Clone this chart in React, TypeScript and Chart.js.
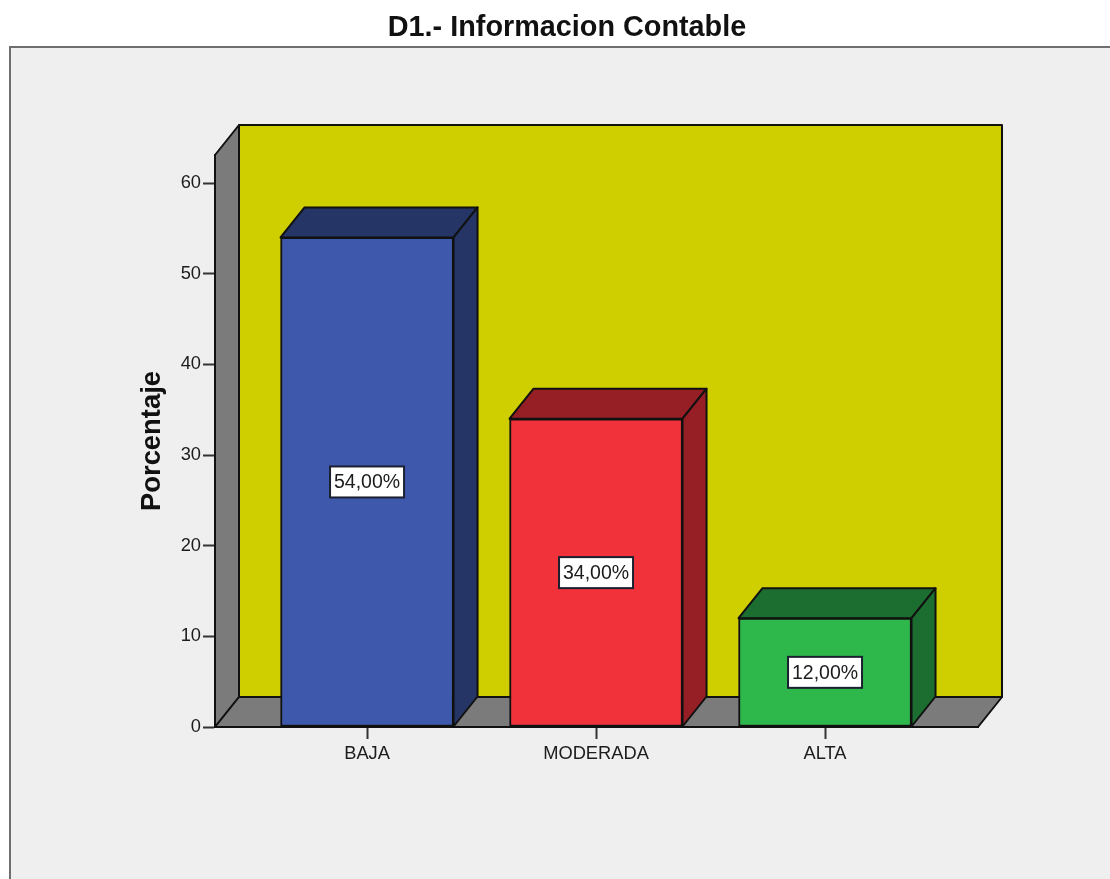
import React, { useEffect, useRef } from "react";
import { Chart, registerables } from "chart.js";

Chart.register(...registerables);

const categories = ["BAJA", "MODERADA", "ALTA"];
const percentages = [54, 34, 12];
const valueLabels = ["54,00%", "34,00%", "12,00%"];
const frontColors = ["#3e59ab", "#f1323b", "#2eb84c"];
const shadeColors = ["#253566", "#951f25", "#1b6e2f"];

const FONT = "'Liberation Sans', Arial, sans-serif";
const INK = "#1c1c1c";
const DEPTH_X = 24;
const DEPTH_Y = -30;

function polygon(ctx: CanvasRenderingContext2D, pts: number[][], fill: string, stroke = "#111", lw = 2) {
  ctx.beginPath();
  pts.forEach(([x, y], i) => (i ? ctx.lineTo(x, y) : ctx.moveTo(x, y)));
  ctx.closePath();
  ctx.fillStyle = fill;
  ctx.fill();
  ctx.lineWidth = lw;
  ctx.lineJoin = "round";
  ctx.strokeStyle = stroke;
  ctx.stroke();
}

// Grey panel with its frame behind the whole chart
const panelPlugin = {
  id: "panel",
  beforeDraw(chart: any) {
    const { ctx, width, height } = chart;
    ctx.save();
    ctx.fillStyle = "#efefef";
    ctx.fillRect(10, 47, width, height);
    ctx.strokeStyle = "#6f6f6f";
    ctx.lineWidth = 2;
    ctx.strokeRect(10, 47, width, height);
    ctx.restore();
  },
};

// Box walls, floor and the receding faces of each bar
const depthPlugin = {
  id: "depth",
  beforeDatasetsDraw(chart: any) {
    const { ctx, chartArea: a } = chart;
    const { left: l, right: r, top: t, bottom: b } = a;
    const dx = DEPTH_X;
    const dy = DEPTH_Y;
    ctx.save();
    polygon(ctx, [[l + dx, t + dy], [r + dx, t + dy], [r + dx, b + dy], [l + dx, b + dy]], "#cfcf00");
    polygon(ctx, [[l, t], [l + dx, t + dy], [l + dx, b + dy], [l, b]], "#7b7b7b");
    polygon(ctx, [[l, b], [l + dx, b + dy], [r + dx, b + dy], [r, b]], "#7b7b7b");
    chart.getDatasetMeta(0).data.forEach((bar: any, i: number) => {
      const x0 = bar.x - bar.width / 2;
      const x1 = bar.x + bar.width / 2;
      const shade = shadeColors[i];
      polygon(ctx, [[x0, bar.y], [x0 + dx, bar.y + dy], [x1 + dx, bar.y + dy], [x1, bar.y]], shade);
      polygon(ctx, [[x1, bar.y], [x1 + dx, bar.y + dy], [x1 + dx, bar.base + dy], [x1, bar.base]], shade);
    });
    ctx.restore();
  },
};

// White boxed value in the middle of each bar's front face
const valueBoxPlugin = {
  id: "valueBox",
  afterDatasetsDraw(chart: any) {
    const { ctx } = chart;
    ctx.save();
    ctx.font = `19.5px ${FONT}`;
    ctx.textAlign = "center";
    ctx.textBaseline = "middle";
    chart.getDatasetMeta(0).data.forEach((bar: any, i: number) => {
      const cy = (bar.y + bar.base) / 2;
      const w = 74;
      const h = 31;
      ctx.fillStyle = "#ffffff";
      ctx.fillRect(bar.x - w / 2, cy - h / 2, w, h);
      ctx.strokeStyle = "#1a2030";
      ctx.lineWidth = 2;
      ctx.strokeRect(bar.x - w / 2, cy - h / 2, w, h);
      ctx.fillStyle = INK;
      ctx.fillText(valueLabels[i], bar.x, cy + 1);
    });
    ctx.restore();
  },
};

export default function App() {
  const ref = useRef<HTMLCanvasElement>(null);

  useEffect(() => {
    const chart = new Chart(ref.current!, {
      type: "bar",
      data: {
        labels: categories,
        datasets: [
          {
            data: percentages.map((y, x) => ({ x, y })),
            backgroundColor: frontColors,
            borderColor: "#111",
            borderWidth: 2,
            borderSkipped: false,
            barThickness: 173,
          },
        ],
      } as any,
      options: {
        animation: false,
        responsive: false,
        layout: { padding: { left: 156, right: 132, top: 0, bottom: 100 } },
        plugins: {
          legend: { display: false },
          tooltip: { enabled: false },
          title: {
            display: true,
            text: "D1.- Informacion Contable",
            color: "#111",
            font: { family: FONT, size: 28.8, weight: "bold", lineHeight: 1.2 },
            padding: { top: 11, bottom: 109.44 },
          },
        },
        scales: {
          x: {
            type: "linear",
            min: -0.664,
            max: 2.668,
            offset: false,
            z: 1,
            afterBuildTicks: (s: any) => {
              s.ticks = categories.map((_, value) => ({ value }));
            },
            afterFit: (s: any) => {
              s.height = 52;
            },
            border: { display: true, color: "#111", width: 2 },
            grid: { offset: false, drawOnChartArea: false, drawTicks: true, tickLength: 12, tickColor: "#333", tickWidth: 2 },
            ticks: {
              autoSkip: false,
              maxRotation: 0,
              padding: 4,
              color: INK,
              font: { family: FONT, size: 18.3 },
              callback: (v: any) => categories[v] ?? "",
            },
          },
          y: {
            min: 0,
            max: 63.09,
            z: 1,
            afterFit: (s: any) => {
              s.width = 59;
            },
            border: { display: true, color: "#111", width: 2 },
            grid: { drawOnChartArea: false, drawTicks: true, tickLength: 12, tickColor: "#333", tickWidth: 2 },
            ticks: {
              stepSize: 10,
              includeBounds: false,
              padding: 2,
              color: INK,
              font: { family: FONT, size: 18.3 },
            },
            title: {
              display: true,
              text: "Porcentaje",
              color: "#111",
              font: { family: FONT, size: 27.4, weight: "bold", lineHeight: 1.2 },
              padding: { top: -20.4, bottom: 0 },
            },
          },
        },
      } as any,
      plugins: [panelPlugin, depthPlugin, valueBoxPlugin],
    });
    return () => chart.destroy();
  }, []);

  return (
    <canvas
      ref={ref}
      width={1110}
      height={879}
      style={{ position: "absolute", left: 0, top: 0, display: "block" }}
    />
  );
}
